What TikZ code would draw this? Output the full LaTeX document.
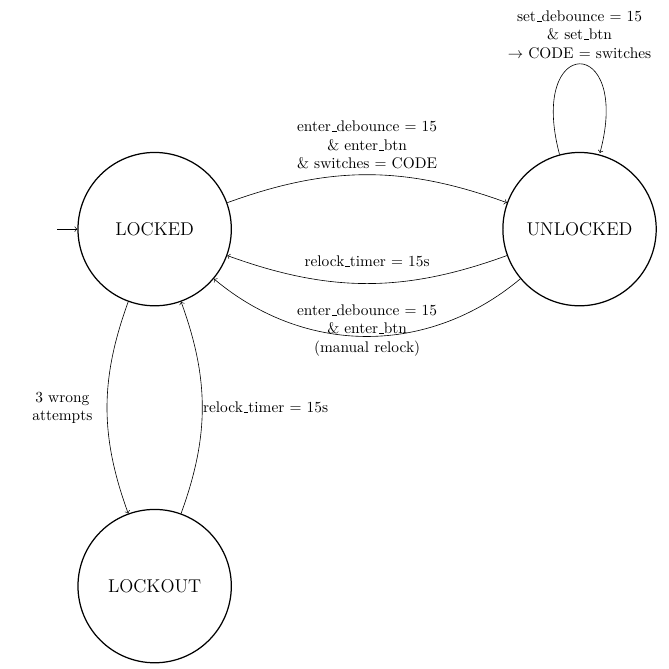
\documentclass[tikz,border=0pt]{standalone}
\usetikzlibrary{automata}
\usetikzlibrary{positioning}

% short underscore, as in the OT1 fonts
\newcommand{\us}{\leavevmode\kern.06em\vbox{\hrule width.3em}}

\begin{document}
\begin{tikzpicture}
[->,%
  every state/.style={draw,thick,minimum size=3.5cm,font=\large},%
  initial text={},%
  node distance=6.17cm]
\useasboundingbox (-3.53,-10.02) rectangle (11.74,5.23);
% states
\node[state,initial] (locked) {LOCKED};
\node[state,right=of locked] (unlocked) {UNLOCKED};
\node[state,below=4.62cm of locked] (lockout) {LOCKOUT};
% transitions
\path
  (locked) edge[bend left=20] node[above,align=center]
    {enter\us debounce = 15\\ \& enter\us btn\\ \& switches = CODE} (unlocked)
  (unlocked) edge[bend left=20] node[above=7pt]
    {relock\us timer = 15s} (locked)
  (unlocked) edge[bend left=40] node[align=center,yshift=4pt]
    {enter\us debounce = 15\\ \& enter\us btn\\ (manual relock)} (locked)
  (unlocked) edge[loop above] node[above,align=center]
    {set\us debounce = 15\\ \& set\us btn\\ $\rightarrow$ CODE = switches} ()
  (locked) edge[bend right=20] node[left=6pt,align=center]
    {3 wrong\\ attempts} (lockout)
  (lockout) edge[bend right=20] node[right=-3pt]
    {relock\us timer = 15s} (locked);
\end{tikzpicture}
\end{document}
